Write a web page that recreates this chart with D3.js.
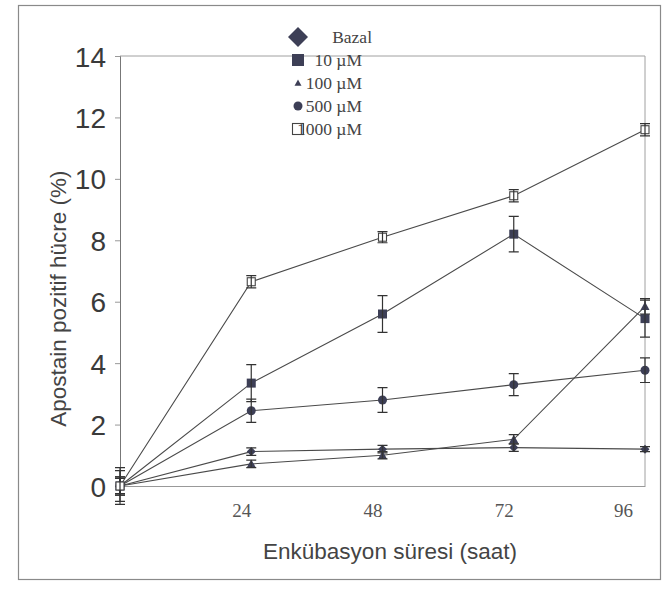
<!DOCTYPE html>
<html>
<head>
<meta charset="utf-8">
<script src="https://cdn.jsdelivr.net/npm/d3@7"></script>
<style>
  html, body { margin: 0; padding: 0; background: #fff; }
</style>
</head>
<body>
<div id="chart"></div>
<script>
const hours = [0, 24, 48, 72, 96];
const xTicks = [24, 48, 72, 96];
const yTicks = [0, 2, 4, 6, 8, 10, 12, 14];

const seriesNames = ["Bazal", "10 µM", "100 µM", "500 µM", "1000 µM"];
const seriesSymbols = ["diamond", "square", "triangle", "circle", "openSquare"];

const bazal = [0, 1.12, 1.2, 1.25, 1.2];
const bazalErr = [0.6, 0.12, 0.12, 0.12, 0.08];
const um10 = [0, 3.35, 5.6, 8.2, 5.45];
const um10Err = [0.5, 0.6, 0.6, 0.58, 0.6];
const um100 = [0, 0.72, 1.0, 1.52, 5.85];
const um100Err = [0.3, 0.12, 0.12, 0.15, 0.25];
const um500 = [0, 2.45, 2.8, 3.3, 3.77];
const um500Err = [0.3, 0.38, 0.4, 0.36, 0.4];
const um1000 = [0, 6.65, 8.1, 9.45, 11.6];
const um1000Err = [0.25, 0.2, 0.18, 0.2, 0.2];

const values = [bazal, um10, um100, um500, um1000];
const errors = [bazalErr, um10Err, um100Err, um500Err, um1000Err];

const width = 667;
const height = 592;
const markColor = "#3d3f56";
const lineColor = "#4a4a4a";
const boxColor = "#a0a0a0";

const x = d3.scaleLinear().domain([0, 96]).range([120, 645]);
const y = d3.scaleLinear().domain([0, 14]).range([486, 56]);

const svg = d3.create("svg")
  .attr("width", width)
  .attr("height", height)
  .attr("viewBox", [0, 0, width, height]);

// outer frame of the figure
svg.append("rect")
  .attr("x", 18.5).attr("y", 5.5)
  .attr("width", 642).attr("height", 574)
  .attr("fill", "none")
  .attr("stroke", "#8a8a8a")
  .attr("stroke-width", 1.2);

// plot box: top and right borders
svg.append("line")
  .attr("x1", x(0)).attr("x2", x(96))
  .attr("y1", y(14)).attr("y2", y(14))
  .attr("stroke", boxColor);
svg.append("line")
  .attr("x1", x(96)).attr("x2", x(96))
  .attr("y1", y(14)).attr("y2", y(0))
  .attr("stroke", boxColor);

svg.append("g")
  .attr("transform", `translate(${x(0)},0)`)
  .call(d3.axisLeft(y).tickValues(yTicks).tickSize(5).tickPadding(9))
  .call((axis) => axis.select(".domain").attr("stroke", "#777"))
  .call((axis) => axis.selectAll(".tick line").attr("stroke", "#999"))
  .call((axis) => axis.selectAll(".tick text")
    .attr("font-family", "'Liberation Sans', Arial, sans-serif")
    .attr("font-size", 28)
    .attr("fill", "#3a3a3a")
    .attr("dy", "0.36em"));

svg.append("g")
  .attr("transform", `translate(0,${y(0)})`)
  .call(d3.axisBottom(x).tickValues(xTicks).tickSize(0).tickPadding(18))
  .call((axis) => axis.select(".domain").attr("stroke", "#999"))
  .call((axis) => axis.selectAll(".tick text")
    .attr("font-family", "'Liberation Serif', 'Times New Roman', serif")
    .attr("font-size", 19)
    .attr("fill", "#555")
    .attr("dx", (d) => d === 96 ? -22 : -10));

svg.append("text")
  .attr("transform", `translate(66,${y(6.1)}) rotate(-90)`)
  .attr("text-anchor", "middle")
  .attr("font-family", "'Liberation Sans', Arial, sans-serif")
  .attr("font-size", 22.5)
  .attr("fill", "#444")
  .text("Apostain pozitif hücre (%)");

svg.append("text")
  .attr("x", 390)
  .attr("y", 559)
  .attr("text-anchor", "middle")
  .attr("font-family", "'Liberation Sans', Arial, sans-serif")
  .attr("font-size", 22.5)
  .attr("fill", "#444")
  .text("Enkübasyon süresi (saat)");

const line = d3.line()
  .x((d) => x(d.hour))
  .y((d) => y(d.value));

const plot = svg.append("g");

seriesNames.forEach((name, i) => {
  const points = hours.map((hour, j) => ({hour, value: values[i][j], err: errors[i][j]}));
  plot.append("path")
    .datum(points)
    .attr("fill", "none")
    .attr("stroke", lineColor)
    .attr("stroke-width", 1.1)
    .attr("d", line);
});

seriesNames.forEach((name, i) => {
  const points = hours.map((hour, j) => ({hour, value: values[i][j], err: errors[i][j]}));
  const g = plot.append("g");
  points.forEach((p) => {
    drawSymbol(g, seriesSymbols[i], x(p.hour), y(p.value), 9);
  });
  g.selectAll("path.err")
    .data(points)
    .join("path")
    .attr("class", "err")
    .attr("fill", "none")
    .attr("stroke", "#333")
    .attr("stroke-width", 1.2)
    .attr("d", (d) => {
      const cx = x(d.hour), top = y(d.value + d.err), bottom = y(d.value - d.err);
      return `M${cx - 5},${top}H${cx + 5}M${cx},${top}V${bottom}M${cx - 5},${bottom}H${cx + 5}`;
    });
});

// legend
const legend = svg.append("g");
const legendY = d3.scalePoint().domain(seriesNames).range([37, 129]);
const legendSizes = [20, 12, 7, 9, 12];
seriesNames.forEach((name, i) => {
  drawSymbol(legend, seriesSymbols[i], 298, legendY(name), legendSizes[i]);
  legend.append("text")
    .attr("x", 362 + (i === 0 ? 10 : 0))
    .attr("y", legendY(name))
    .attr("dy", "0.35em")
    .attr("text-anchor", "end")
    .attr("font-family", "'Liberation Serif', 'Times New Roman', serif")
    .attr("font-size", 17.5)
    .attr("fill", "#444")
    .text(name);
});

function drawSymbol(parent, kind, cx, cy, size) {
  const h = size / 2;
  if (kind === "diamond") {
    parent.append("path")
      .attr("d", `M${cx},${cy - h}L${cx + h},${cy}L${cx},${cy + h}L${cx - h},${cy}Z`)
      .attr("fill", markColor);
  } else if (kind === "square") {
    parent.append("rect")
      .attr("x", cx - h).attr("y", cy - h)
      .attr("width", size).attr("height", size)
      .attr("fill", markColor);
  } else if (kind === "triangle") {
    parent.append("path")
      .attr("d", `M${cx},${cy - h}L${cx + h},${cy + h * 0.8}L${cx - h},${cy + h * 0.8}Z`)
      .attr("fill", markColor);
  } else if (kind === "circle") {
    parent.append("circle")
      .attr("cx", cx).attr("cy", cy)
      .attr("r", h)
      .attr("fill", markColor);
  } else {
    parent.append("rect")
      .attr("x", cx - h + 0.5).attr("y", cy - h + 0.5)
      .attr("width", size - 1).attr("height", size - 1)
      .attr("fill", "#fff")
      .attr("stroke", "#444")
      .attr("stroke-width", 1.1);
  }
}

document.getElementById("chart").append(svg.node());
</script>
</body>
</html>
